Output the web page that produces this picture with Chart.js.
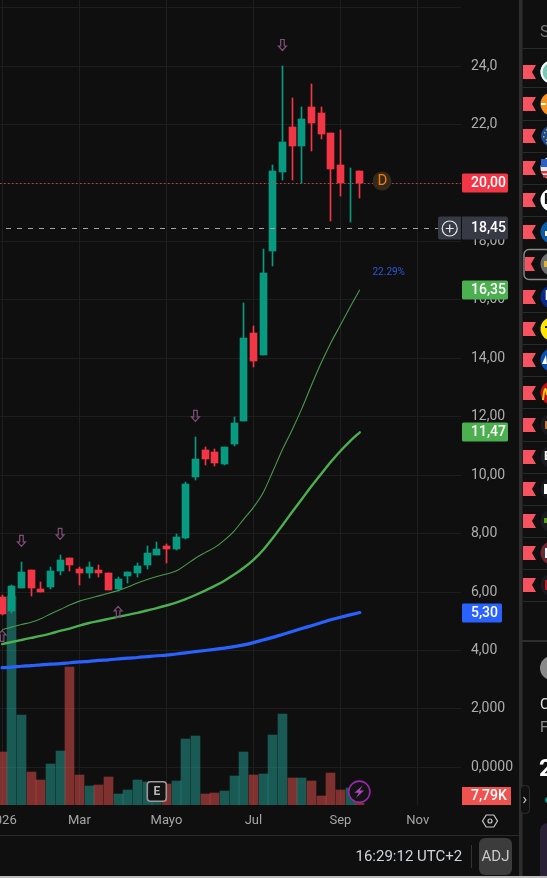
<!DOCTYPE html>
<html><head><meta charset="utf-8">
<style>html,body{margin:0;padding:0;background:#0f0f0f;overflow:hidden}canvas{display:block}</style>
<script src="https://cdn.jsdelivr.net/npm/chart.js@4/dist/chart.umd.min.js"></script>
</head><body><canvas id="c" width="547" height="878"></canvas>
<script>
const opens=[5.83,5.35,6.14,6.75,6.10,6.17,6.72,7.17,6.79,6.65,6.75,6.65,6.10,6.55,6.65,6.93,7.27,7.58,7.47,7.85,9.94,10.86,10.80,10.38,11.07,11.86,14.87,14.12,17.68,20.38,21.92,21.27,22.61,22.40,21.72,20.62,20.00,20.42];
const closes=[5.25,6.21,6.69,6.14,6.00,6.72,7.10,6.93,6.65,6.86,6.65,6.07,6.45,6.69,6.89,7.34,7.47,7.47,7.88,9.70,10.56,10.56,10.42,10.97,11.79,14.70,13.91,16.92,20.42,21.41,21.27,22.20,22.06,21.68,20.48,20.00,20.00,20.00];
const highs=[5.90,6.24,7.03,6.75,6.34,6.86,7.27,7.17,6.86,7.03,6.93,6.65,6.52,6.69,6.99,7.58,7.71,7.65,7.99,9.77,11.31,10.97,10.90,10.97,11.99,15.90,15.11,17.75,20.62,24.01,22.92,22.61,23.39,22.61,21.72,21.82,20.52,20.42];
const lows=[5.21,5.28,6.14,5.86,6.00,6.10,6.58,6.72,6.24,6.48,6.52,6.07,6.04,6.31,6.52,6.79,7.27,6.99,7.44,7.82,9.84,10.35,10.32,10.35,11.00,11.86,13.71,14.12,17.16,20.11,20.11,20.00,21.10,21.51,18.70,19.56,18.67,19.49];
const volumes=[207,815,351,129,98,160,211,538,117,74,78,109,43,59,98,90,39,82,94,257,269,43,47,55,113,207,117,121,273,355,105,105,94,35,125,59,66,7.79];
const volumeUp=[0,1,1,0,0,1,1,0,0,1,0,0,1,1,1,1,1,0,1,1,1,0,0,1,1,1,0,1,1,1,0,1,0,0,0,0,1,0];
const maFast=[4.72,4.80,4.89,4.97,5.09,5.25,5.40,5.56,5.69,5.78,5.87,5.96,6.05,6.17,6.31,6.43,6.53,6.62,6.72,6.93,7.16,7.35,7.53,7.78,8.09,8.50,8.90,9.40,10.13,10.88,11.55,12.28,13.08,13.84,14.53,15.14,15.76,16.35];
const maMid=[4.22,4.29,4.36,4.43,4.50,4.58,4.67,4.75,4.85,4.94,5.01,5.08,5.15,5.22,5.29,5.37,5.45,5.54,5.64,5.76,5.90,6.05,6.21,6.39,6.60,6.83,7.10,7.44,7.85,8.29,8.74,9.18,9.62,10.04,10.45,10.83,11.17,11.47];
const maSlow=[3.41,3.43,3.46,3.48,3.51,3.53,3.55,3.58,3.61,3.63,3.66,3.68,3.71,3.74,3.76,3.79,3.82,3.84,3.88,3.92,3.96,4.00,4.04,4.08,4.13,4.19,4.27,4.36,4.45,4.55,4.65,4.75,4.85,4.95,5.05,5.14,5.22,5.30];
const priceTicks=[0,2,4,6,8,10,12,14,16,18,20,22,24,26];
const priceLabels=['0,0000','2,000','4,00','6,00','8,00','10,00','12,00','14,00','16,00','18,00','20,00','22,0','24,0',''];
const timeTicks=[0,8,17,26,35,43];
const timeLabels=['2026','Mar','Mayo','Jul','Sep','Nov'];
const lastPrice=20.00, crossPrice=18.45;
const tagValues=[20.00,16.35,11.47,5.30];
const tagTexts=['20,00','16,35','11,47','5,30'];
const crossText='18,45', volumeTag='7,79K', percentText='22.29%';
const downMarkI=[2,6,20,29], downMarkP=[7.75,7.99,12.03,24.73];
const upMarkI=[0,12], upMarkP=[4.50,5.32];

const GREEN='#089981',RED='#f23645';
const FONT='Roboto, sans-serif';
const idx=opens.map((_,i)=>i);
const up=opens.map((o,i)=>closes[i]>=o);
const candleColors=up.map(u=>u?GREEN:RED);
const isZero=i=>opens[i]===closes[i];

const snap={id:'snap',beforeDatasetsDraw(chart){
  chart.data.datasets.forEach((d,k)=>{
    if(d.type!=='bar')return;
    chart.getDatasetMeta(k).data.forEach(el=>{
      el.x=Math.floor(el.x)+.5;
      el.y=Math.round(el.y);el.base=Math.round(el.base);
    });
  });
}};

function rr(ctx,x,y,w,h,r){ctx.beginPath();ctx.roundRect(x,y,w,h,r);}
function arrow(ctx,x,y,dir){
  ctx.save();ctx.translate(x,y);ctx.scale(1,dir);
  ctx.strokeStyle='#7f4f77';ctx.lineWidth=1.2;ctx.beginPath();
  ctx.moveTo(-1.8,-5.5);ctx.lineTo(1.8,-5.5);ctx.lineTo(1.8,1);ctx.lineTo(4,1);ctx.lineTo(0,5.5);ctx.lineTo(-4,1);ctx.lineTo(-1.8,1);ctx.closePath();ctx.stroke();
  ctx.restore();
}
const lines={id:'lines',afterDatasetsDraw(chart){
  const c=chart.ctx,y=chart.scales.y,x=chart.scales.x,a=chart.chartArea;
  c.save();
  c.strokeStyle='#c8404f';c.lineWidth=1;c.setLineDash([1.5,2.5]);
  let py=Math.round(y.getPixelForValue(lastPrice))+.5;
  c.beginPath();c.moveTo(0,py);c.lineTo(a.right,py);c.stroke();
  c.strokeStyle='#a3a3a3';c.setLineDash([5,6]);
  py=Math.round(y.getPixelForValue(crossPrice))+.5;
  c.beginPath();c.moveTo(6,py);c.lineTo(438,py);c.stroke();
  c.setLineDash([]);
  downMarkI.forEach((d,i)=>arrow(c,x.getPixelForValue(d),y.getPixelForValue(downMarkP[i]),1));
  upMarkI.forEach((d,i)=>arrow(c,x.getPixelForValue(d),y.getPixelForValue(upMarkP[i]),-1));
  // percent
  c.fillStyle='#2b57d6';c.font='10px '+FONT;c.textAlign='left';c.textBaseline='middle';
  c.fillText(percentText,372.5,272.5);
  // D marker
  c.fillStyle='#33291d';c.beginPath();c.arc(382,181,9.5,0,7);c.fill();
  c.fillStyle='#f57c00';c.font='15px '+FONT;c.textAlign='center';c.fillText('D',382.3,181.5);
  // E marker
  c.fillStyle='#131313';c.strokeStyle='#9a9a9a';c.lineWidth=1.6;rr(c,147.3,781.8,19,19.4,3);c.fill();c.stroke();
  c.fillStyle='#b8b8b8';c.font='bold 12px '+FONT;c.fillText('E',156.8,792);
  // bolt
  c.fillStyle='#131313';c.strokeStyle='#9c27b0';c.lineWidth=1.6;c.beginPath();c.arc(359.3,791.7,10.6,0,7);c.fill();c.stroke();
  c.fillStyle='#ab47bc';c.beginPath();c.moveTo(362.5,785.5);c.lineTo(354.5,792.8);c.lineTo(358.8,792.8);c.lineTo(356,798);c.lineTo(364,790.6);c.lineTo(359.8,790.6);c.closePath();c.fill();
  c.restore();
}};
const chrome={id:'chrome',afterDraw(chart){
  const c=chart.ctx,y=chart.scales.y;
  c.save();
  c.textBaseline='middle';c.textAlign='left';
  // separators
  c.fillStyle='#2a2a2a';c.fillRect(0,835,519,1);
  c.fillStyle='#2e2e2e';c.fillRect(519,0,3.5,876);
  // price tags
  const colors=[RED,'#4caf50','#4caf50','#2962ff'];
  const widths=[46,46,46,40];
  tagValues.forEach((v,i)=>{
    const py=Math.round(y.getPixelForValue(v));
    c.fillStyle=colors[i];rr(c,462,py-9.5,widths[i],19,1.5);c.fill();
    c.fillStyle='#fff';c.font='500 14px '+FONT;c.fillText(tagTexts[i],471,py+.5);
  });
  // crosshair
  const cy=Math.round(y.getPixelForValue(crossPrice));
  c.fillStyle='#363a45';rr(c,438,cy-11.5,23,23,[2,0,0,2]);c.fill();
  rr(c,462,cy-11.5,46,23,[0,2,2,0]);c.fill();
  c.fillStyle='#fff';c.font='500 14px '+FONT;c.fillText(crossText,471,cy+.5);
  c.strokeStyle='#e8e8e8';c.lineWidth=1.2;c.beginPath();c.arc(449.7,cy+.5,7.5,0,7);c.stroke();
  c.beginPath();c.moveTo(445.7,cy+.5);c.lineTo(453.7,cy+.5);c.moveTo(449.7,cy-3.5);c.lineTo(449.7,cy+4.5);c.stroke();
  // volume tag
  c.fillStyle='#ef5350';c.fillRect(462,787,49,18);
  c.fillStyle='#fff';c.font='500 14px '+FONT;c.fillText(volumeTag,471,796.5);
  // hexagon
  c.strokeStyle='#c8c8c8';c.lineWidth=1.2;c.beginPath();
  [[-7.5,0],[-3.8,-6],[3.8,-6],[7.5,0],[3.8,6],[-3.8,6]].forEach((p,i)=>i?c.lineTo(490+p[0],821+p[1]):c.moveTo(490+p[0],821+p[1]));
  c.closePath();c.stroke();c.beginPath();c.arc(490,821,2,0,7);c.stroke();
  // bottom bar
  c.fillStyle='#d1d4dc';c.font='15px '+FONT;c.fillText('16:29:12 UTC+2',355.5,857);
  c.fillStyle='#333';c.fillRect(471,845,1,23);
  c.fillStyle='#3c3c3c';rr(c,479,838,33,37,6);c.fill();
  c.fillStyle='#c8c8c8';c.font='15px '+FONT;c.textAlign='center';c.fillText('ADJ',495.5,857);
  // hide handle
  c.fillStyle='#101010';c.strokeStyle='#2e2e2e';c.lineWidth=1;rr(c,520.5,785.5,9,28,4);c.fill();c.stroke();
  c.strokeStyle='#b5b5b5';c.lineWidth=1.2;c.beginPath();c.moveTo(523.5,797);c.lineTo(526,800);c.lineTo(523.5,803);c.stroke();
  // watchlist
  c.textAlign='left';
  c.fillStyle='#777';c.font='16px '+FONT;c.fillText('S',540,33);
  c.fillStyle='#2a2a2a';
  [48,87,120,152,184,216,312,344,376,408,441,473,505,537,569,601].forEach(s=>c.fillRect(523,s,24,1));
  c.strokeStyle='#8a8a8a';c.lineWidth=1.4;rr(c,524,249.5,40,30,5);c.stroke();
  const fy=[72,104,136,168,200,232,264,297,329,360,393,425,457,489,521,553,585];
  const logo=['#7cc7b5','#f7931a','#1a4a9a','#e8e8f0','#ffffff','#0a5ca8','#6b6b6b','#0a2a8a','#ffe600','#0a50b0','#c0101a','#1a1a1f','#1a1a1f','#1a1a1f','#1a1a1f','#6b2a33','#1a1a1f'];
  fy.forEach((f,i)=>{
    const l=i===6?525:523, w=i===6?10:13;
    c.fillStyle='#f7525f';c.beginPath();c.moveTo(l,f-7);c.lineTo(l+w,f-7);c.lineTo(l+w-4,f);c.lineTo(l+w,f+7);c.lineTo(l,f+7);c.closePath();c.fill();
    const r=i===2?10.5:11.5, cx=i===2?551.5:552;
    c.fillStyle=logo[i];c.beginPath();c.arc(cx,f,r,0,7);c.fill();
    if(i===0){c.strokeStyle='#fff';c.lineWidth=2;c.beginPath();c.arc(cx,f,r-1,0,7);c.stroke();}
    if(i===1){c.fillStyle='#fff';c.fillRect(541,f-1,5,2);}
    if(i===2){c.fillStyle='#d8b020';[[544,f-4],[546,f+3],[543,f],[546,f-7],[546,f+6]].forEach(p=>c.fillRect(p[0],p[1],1.5,1.5));}
    if(i===3){c.fillStyle='#2c5fc8';c.fillRect(541,f-9,6,8);c.fillStyle='#d83a3a';c.fillRect(541,f+3,6,2.5);c.fillRect(543,f+7,4,2.5);}
    if(i===4){c.fillStyle='#111';c.font='bold 14px '+FONT;c.fillText('H',544,f);}
    if(i===5){c.fillStyle='#fff';c.fillRect(545,f-1,2.5,5);}
    if(i===6){c.fillStyle='#d9b53a';c.fillRect(544,f-3,3,6);}
    if(i===7){c.fillStyle='#fff';c.font='bold 12px '+FONT;c.fillText('l',545,f);}
    if(i===8){c.fillStyle='#222';c.fillRect(545,f-3,2,2);}
    if(i===9){c.fillStyle='#fff';c.beginPath();c.moveTo(546,f-5);c.lineTo(542,f+4);c.lineTo(547,f+4);c.closePath();c.fill();}
    if(i===10){c.strokeStyle='#f5c518';c.lineWidth=2;c.beginPath();c.moveTo(543,f+7);c.quadraticCurveTo(545,f-12,547,f+2);c.stroke();}
    if(i===11){c.fillStyle='#c77a30';c.fillRect(545,f-4,2,8);}
    if(i===12){c.fillStyle='#fff';c.font='bold 13px '+FONT;c.fillText('E',544,f);}
    if(i===13){c.fillStyle='#fff';c.fillRect(544,f-5,3,10);}
    if(i===14){c.fillStyle='#5c9a1a';c.fillRect(544,f-3,3,5);}
    if(i===15){c.fillStyle='#fff';c.fillRect(545,f-5,2,10);}
    if(i===16){c.fillStyle='#c81a2a';c.fillRect(545,f-5,2,10);}
  });
  // lower panel
  c.fillStyle='#2e2e2e';c.fillRect(522,640,25,2);
  c.fillStyle='#8a8a8a';c.beginPath();c.arc(552,668,12,0,7);c.fill();
  c.fillStyle='#e0e0e0';c.font='15px '+FONT;c.fillText('C',540,705);
  c.fillStyle='#8a8a8a';c.fillText('F',540,728);
  c.fillStyle='#fff';c.font='bold 24px '+FONT;c.fillText('2',539,770);
  c.fillStyle=GREEN;c.beginPath();c.arc(548,800,3,0,7);c.fill();
  c.fillStyle='#2a2136';rr(c,540,823,20,53,[8,0,0,0]);c.fill();
  // bottom edge
  c.fillStyle='#bdbdbd';c.fillRect(0,876,547,2);
  c.restore();
}};

new Chart(document.getElementById('c'),{
  data:{datasets:[
    {type:'line',data:idx.map(i=>({x:i,y:maSlow[i]})),borderColor:'#2962ff',borderWidth:3.2,pointRadius:0,order:1,borderCapStyle:'round',yAxisID:'y',xAxisID:'x',cubicInterpolationMode:'monotone'},
    {type:'line',data:idx.map(i=>({x:i,y:maMid[i]})),borderColor:'#4caf50',borderWidth:2.4,pointRadius:0,order:1,borderCapStyle:'round',yAxisID:'y',xAxisID:'x',cubicInterpolationMode:'monotone'},
    {type:'line',data:idx.map(i=>({x:i,y:maFast[i]})),borderColor:'#4a994d',borderWidth:1.1,pointRadius:0,order:1,yAxisID:'y',xAxisID:'x',cubicInterpolationMode:'monotone'},
    {type:'bar',label:'bodies',data:idx.map(i=>({x:i,y:isZero(i)?null:[opens[i],closes[i]]})),backgroundColor:candleColors,barThickness:7,grouped:false,borderWidth:0,borderSkipped:false,order:2,yAxisID:'y',xAxisID:'x'},
    {type:'bar',label:'wicks',data:idx.map(i=>({x:i,y:[lows[i],highs[i]]})),backgroundColor:candleColors,barThickness:1,grouped:false,borderWidth:0,borderSkipped:false,order:3,yAxisID:'y',xAxisID:'x'},
    {type:'bar',label:'volume',data:idx.map(i=>({x:i,y:volumes[i]})),backgroundColor:volumeUp.map(u=>u?'rgba(38,166,154,.5)':'rgba(239,83,80,.5)'),barThickness:9,grouped:false,borderWidth:0,order:4,yAxisID:'vol',xAxisID:'x'}
  ]},
  options:{
    responsive:false,animation:false,maintainAspectRatio:false,
    layout:{padding:0},
    plugins:{legend:{display:false},tooltip:{enabled:false}},
    scales:{
      x:{type:'linear',position:'bottom',offset:false,min:-2.1/9.667,max:(461-2.1)/9.667,
        border:{display:false},
        grid:{color:'#1e1e1e',drawTicks:false,offset:false},
        afterBuildTicks(s){s.ticks=timeTicks.map(v=>({value:v}));},
        afterFit(s){s.height=73;s.paddingLeft=0;s.paddingRight=0;},
        ticks:{autoSkip:false,maxRotation:0,padding:8,color:'#a6a6a6',font:{family:FONT,size:13},
          callback(v){return timeLabels[timeTicks.indexOf(v)]??'';}}
      },
      y:{type:'linear',position:'right',min:-1.29,max:26.27,
        border:{display:false},
        grid:{color:'#1e1e1e',drawTicks:false},
        afterBuildTicks(s){s.ticks=priceTicks.map(v=>({value:v}));},
        afterFit(s){s.width=86;s.paddingTop=0;s.paddingBottom=0;},
        ticks:{autoSkip:false,padding:10,color:'#adadad',font:{family:FONT,size:14},
          callback(v){return priceLabels[priceTicks.indexOf(v)]??'';}}
      },
      vol:{type:'linear',display:false,min:0,max:3139.5}
    }
  },
  plugins:[snap,lines,chrome]
});
</script></body></html>
